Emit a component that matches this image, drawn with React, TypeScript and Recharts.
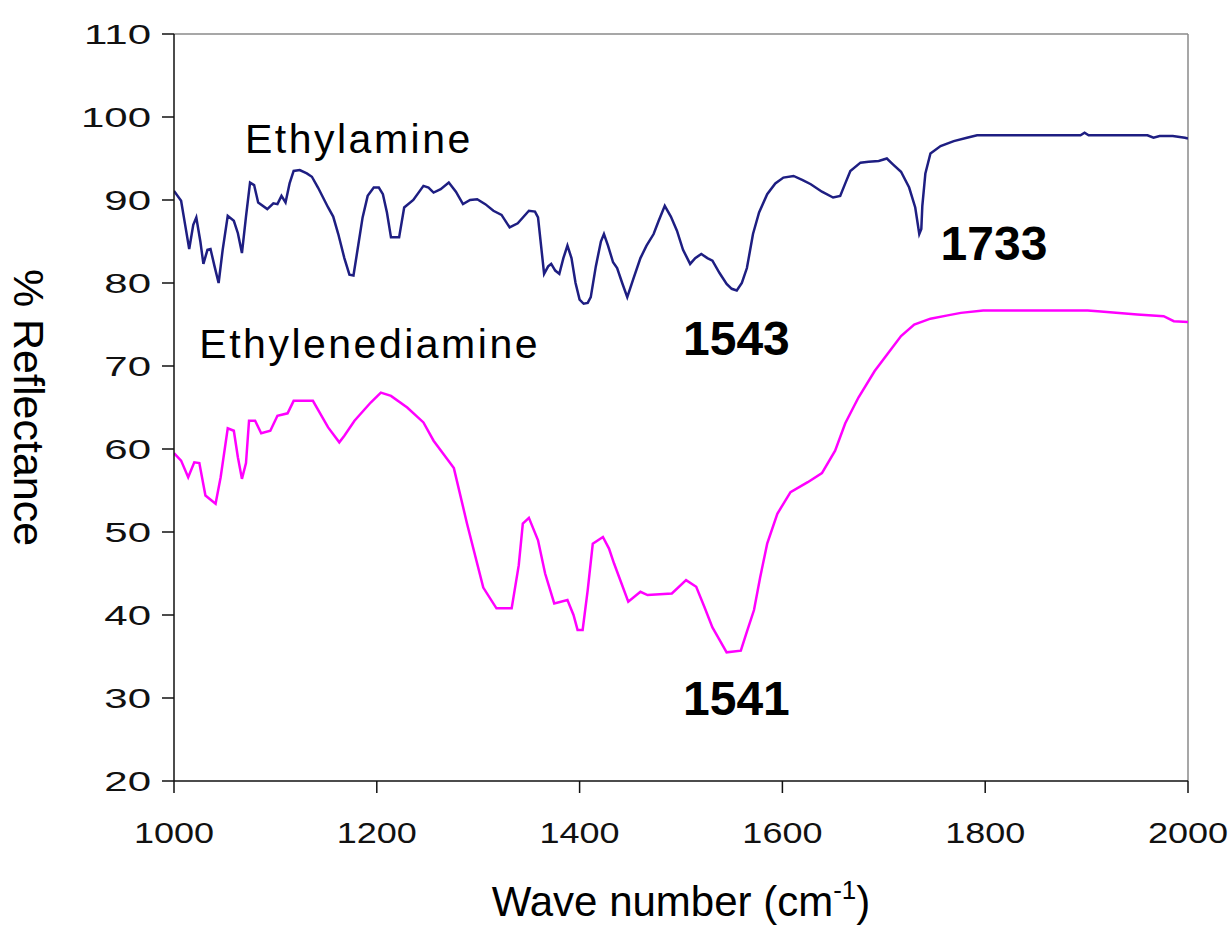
import React from 'react';
import { LineChart, Line, XAxis, YAxis, ReferenceLine, ReferenceDot } from 'recharts';

// Ethylamine spectrum (wave number, % reflectance)
const ethylamineWave = [
  1000, 1007, 1011, 1015, 1019, 1022, 1026, 1029, 1033, 1036,
  1040, 1044, 1048, 1053, 1059, 1063, 1067, 1071, 1075, 1079,
  1083, 1092, 1098, 1102, 1106, 1110, 1114, 1118, 1124, 1131,
  1136, 1142, 1152, 1157, 1162, 1168, 1173, 1177, 1181, 1186,
  1191, 1197, 1202, 1206, 1210, 1214, 1222, 1227, 1236, 1246,
  1251, 1256, 1263, 1271, 1278, 1285, 1292, 1299, 1307, 1315,
  1323, 1331, 1339, 1350, 1356, 1359, 1365, 1369, 1372, 1376,
  1380, 1384, 1388, 1392, 1396, 1400, 1404, 1408, 1411, 1416,
  1421, 1424, 1428, 1433, 1437, 1442, 1447, 1453, 1460, 1466,
  1473, 1478, 1484, 1490, 1496, 1502, 1509, 1514, 1520, 1526,
  1531, 1538, 1545, 1550, 1555, 1560, 1565, 1571, 1577, 1585,
  1593, 1601, 1611, 1620, 1628, 1639, 1650, 1657, 1662, 1667,
  1677, 1685, 1695, 1703, 1709, 1717, 1725, 1731, 1735, 1737,
  1738, 1741, 1746, 1756, 1769, 1782, 1792, 1806, 1856, 1894,
  1898, 1902, 1960, 1966, 1972, 1985, 1997, 2000,
];
const ethylamineRefl = [
  91.1, 89.9, 87.0, 84.1, 87.0, 87.9, 85.0, 82.3, 84.0, 84.1,
  82.0, 80.0, 84.0, 88.1, 87.5, 86.0, 83.6, 88.0, 92.1, 91.8,
  89.7, 88.9, 89.6, 89.5, 90.5, 89.7, 92.0, 93.5, 93.6, 93.2,
  92.8, 91.5, 89.1, 88.0, 85.9, 83.0, 81.0, 80.9, 84.0, 87.9,
  90.5, 91.5, 91.5, 90.7, 88.5, 85.5, 85.5, 89.1, 90.0, 91.7,
  91.5, 90.9, 91.3, 92.1, 91.0, 89.5, 90.0, 90.1, 89.5, 88.7,
  88.2, 86.7, 87.2, 88.7, 88.6, 87.9, 81.1, 82.0, 82.3, 81.5,
  81.1, 83.0, 84.5, 83.0, 80.0, 78.0, 77.5, 77.6, 78.3, 82.0,
  85.0, 85.9, 84.5, 82.5, 81.8, 80.0, 78.3, 80.5, 83.0, 84.5,
  85.9, 87.5, 89.3, 88.0, 86.3, 84.0, 82.3, 83.0, 83.5, 83.0,
  82.7, 81.2, 79.9, 79.3, 79.1, 80.0, 81.8, 85.9, 88.5, 90.7,
  92.0, 92.7, 92.9, 92.4, 91.9, 91.0, 90.3, 90.5, 92.0, 93.5,
  94.5, 94.6, 94.7, 95.0, 94.3, 93.4, 91.5, 89.1, 85.9, 86.5,
  89.3, 93.2, 95.6, 96.5, 97.1, 97.5, 97.8, 97.8, 97.8, 97.8,
  98.1, 97.8, 97.8, 97.5, 97.7, 97.7, 97.5, 97.4,
];

// Ethylenediamine spectrum
const diamineWave = [
  1000, 1007, 1014, 1020, 1025, 1031, 1041, 1046, 1053, 1059,
  1063, 1067, 1071, 1074, 1080, 1086, 1095, 1102, 1112, 1118,
  1137, 1152, 1163, 1168, 1178, 1194, 1204, 1214, 1230, 1246,
  1256, 1276, 1289, 1305, 1318, 1333, 1340, 1344, 1350, 1359,
  1366, 1375, 1388, 1394, 1398, 1403, 1408, 1413, 1423, 1429,
  1434, 1448, 1460, 1467, 1491, 1505, 1515, 1523, 1531, 1538,
  1545, 1559, 1565, 1572, 1578, 1585, 1595, 1608, 1625, 1639,
  1652, 1662, 1675, 1691, 1704, 1717, 1730, 1746, 1763, 1776,
  1798, 1901, 1911, 1950, 1976, 1986, 2000,
];
const diamineRefl = [
  59.5, 58.6, 56.6, 58.4, 58.3, 54.4, 53.4, 56.6, 62.5, 62.2,
  59.0, 56.4, 58.3, 63.4, 63.4, 61.9, 62.2, 64.0, 64.3, 65.8,
  65.8, 62.6, 60.8, 61.6, 63.4, 65.6, 66.8, 66.4, 65.0, 63.2,
  61.0, 57.7, 51.0, 43.3, 40.8, 40.8, 46.0, 51.0, 51.7, 49.0,
  45.0, 41.4, 41.8, 40.0, 38.2, 38.2, 43.0, 48.6, 49.4, 48.0,
  46.2, 41.6, 42.8, 42.4, 42.6, 44.2, 43.4, 41.0, 38.5, 37.0,
  35.5, 35.7, 38.0, 40.6, 44.5, 48.6, 52.2, 54.8, 56.0, 57.1,
  59.8, 63.1, 66.2, 69.4, 71.5, 73.6, 75.0, 75.7, 76.1, 76.4,
  76.7, 76.7, 76.6, 76.2, 76.0, 75.4, 75.3,
];

const xTicks = [1000, 1200, 1400, 1600, 1800, 2000];
const yTicks = [20, 30, 40, 50, 60, 70, 80, 90, 100, 110];

// annotations: text, anchor position in data units (left edge, baseline)
const noteTexts = ['Ethylamine', 'Ethylenediamine', '1733', '1543', '1541'];
const noteWave = [1070, 1025, 1756, 1502, 1502];
const noteRefl = [95.7, 71.0, 82.8, 71.3, 28.0];
const noteBold = [false, false, true, true, true];

const ethylamineData = ethylamineWave.map((w, i) => ({ w, r: ethylamineRefl[i] }));
const diamineData = diamineWave.map((w, i) => ({ w, r: diamineRefl[i] }));

const FONT = '"Liberation Sans", Arial, sans-serif';

const XTick = (props: any) => {
  const { x, y, payload } = props;
  return (
    <g transform={`translate(${x},${y})`}>
      <text transform="scale(1.2,1)" textAnchor="middle" dy="0.71em" fontSize={30} fill="#111" fontFamily={FONT}>
        {payload.value}
      </text>
    </g>
  );
};

const YTick = (props: any) => {
  const { x, y, payload } = props;
  return (
    <g transform={`translate(${x},${y})`}>
      <text transform="scale(1.5,1)" textAnchor="end" dy="0.355em" fontSize={28} fill="#111" fontFamily={FONT}>
        {payload.value}
      </text>
    </g>
  );
};

const XTitle = (props: any) => {
  const { viewBox } = props;
  const cx = viewBox.x + viewBox.width / 2;
  return (
    <text x={cx} y={916} textAnchor="middle" fontSize={42} fill="#000" fontFamily={FONT}>
      <tspan>Wave number (cm</tspan>
      <tspan dy={-17} fontSize={26}>-1</tspan>
      <tspan dy={17}>)</tspan>
    </text>
  );
};

const YTitle = (props: any) => {
  const { viewBox } = props;
  const cy = viewBox.y + viewBox.height / 2;
  return (
    <text
      x={29}
      y={cy}
      transform={`rotate(90, 29, ${cy})`}
      textAnchor="middle"
      dominantBaseline="central"
      fontSize={43}
      fill="#000"
      fontFamily={FONT}
    >
      % Reflectance
    </text>
  );
};

const Note = (props: any) => {
  const { viewBox, text, bold } = props;
  const x = viewBox.x + viewBox.width / 2;
  const y = viewBox.y + viewBox.height / 2;
  return (
    <text
      x={x}
      y={y}
      textAnchor="start"
      fontSize={bold ? 48 : 41}
      fontWeight={bold ? 'bold' : 'normal'}
      letterSpacing={bold ? 0 : 2.5}
      fill="#000"
      fontFamily={FONT}
    >
      {text}
    </text>
  );
};

export default function App() {
  return (
    <div style={{ width: 1232, height: 928, background: '#fff' }}>
      <style>{'body{margin:0;}'}</style>
      <LineChart width={1232} height={928} margin={{ top: 34, right: 44, left: 0, bottom: 0 }}>
        <XAxis
          dataKey="w"
          type="number"
          domain={[1000, 2000]}
          ticks={xTicks}
          allowDataOverflow
          height={147}
          tickSize={12}
          tickMargin={29}
          stroke="#111"
          strokeWidth={1.5}
          tick={<XTick />}
          label={<XTitle />}
        />
        <YAxis
          type="number"
          domain={[20, 110]}
          ticks={yTicks}
          allowDataOverflow
          width={174}
          tickSize={12}
          tickMargin={11}
          stroke="#111"
          strokeWidth={1.5}
          tick={<YTick />}
          label={<YTitle />}
        />
        <ReferenceLine y={110} stroke="#8a8a8a" strokeWidth={1.5} />
        <ReferenceLine x={2000} stroke="#8a8a8a" strokeWidth={1.5} />
        <Line
          data={ethylamineData}
          dataKey="r"
          type="linear"
          stroke="#1e1e82"
          strokeWidth={2.5}
          dot={false}
          isAnimationActive={false}
        />
        <Line
          data={diamineData}
          dataKey="r"
          type="linear"
          stroke="#ff00ff"
          strokeWidth={2.5}
          dot={false}
          isAnimationActive={false}
        />
        {noteTexts.map((t, i) => (
          <ReferenceDot
            key={t}
            x={noteWave[i]}
            y={noteRefl[i]}
            r={0}
            fill="none"
            stroke="none"
            label={<Note text={t} bold={noteBold[i]} />}
          />
        ))}
      </LineChart>
    </div>
  );
}
